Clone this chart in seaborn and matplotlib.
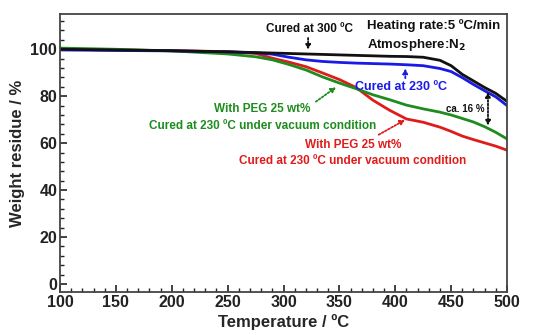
import seaborn as sns
import pandas as pd
import matplotlib.pyplot as plt
from matplotlib.ticker import MultipleLocator

# TGA curves
temps = [100, 150, 200, 250, 275, 290, 305, 320, 335, 350, 365, 380, 395,
         410, 425, 440, 450, 460, 470, 480, 490, 500]
cured_300 = [100.0, 99.7, 99.4, 98.9, 98.6, 98.4, 98.2, 98.0, 97.8, 97.6, 97.4,
             97.2, 97.0, 96.9, 96.6, 95.3, 93.0, 89.3, 86.5, 83.7, 81.2, 77.8]
cured_230 = [99.7, 99.5, 99.3, 98.9, 98.5, 97.9, 96.6, 95.5, 94.8, 94.4, 94.1,
             93.9, 93.7, 93.4, 93.0, 91.8, 90.5, 87.9, 85.0, 82.3, 79.7, 76.0]
peg_green = [100.5, 100.0, 99.3, 98.0, 96.8, 95.5, 93.5, 91.2, 88.2, 85.6, 83.2,
             80.6, 78.5, 76.2, 74.6, 73.2, 72.0, 70.5, 69.0, 67.0, 64.6, 61.8]
peg_red = [100.0, 99.7, 99.4, 99.0, 98.2, 96.2, 94.5, 92.6, 89.9, 87.1, 83.7,
           78.3, 74.0, 70.3, 68.9, 66.8, 65.0, 63.0, 61.5, 60.1, 58.7, 57.0]
names = ['300', '230', 'peg_g', 'peg_r']
colors = {'300': '#111111', '230': '#1a1ae6', 'peg_g': '#1e8c1e', 'peg_r': '#e01b1b'}

rows = []
for n, ys in zip(names, [cured_300, cured_230, peg_green, peg_red]):
    for t, y in zip(temps, ys):
        rows.append({'T': t, 'W': y, 's': n})
df = pd.DataFrame(rows)

sns.set_theme(style="white")
plt.rcParams['font.family'] = ['Liberation Sans', 'DejaVu Sans']
plt.rcParams['font.weight'] = 'bold'

fig = plt.figure(figsize=(5.33, 3.35), dpi=100)
ax = fig.add_axes([0.1126, 0.128, 0.8386, 0.83])

# red/green drawn first so black/blue sit on top
sns.lineplot(data=df, x='T', y='W', hue='s', hue_order=['peg_r', 'peg_g', '230', '300'],
             palette=colors, lw=2.0, legend=False, ax=ax)
for ln in ax.lines:
    ln.set_solid_joinstyle('round')

ax.set_xlim(100, 500)
ax.set_ylim(-3.5, 115)
ax.xaxis.set_major_locator(MultipleLocator(50))
ax.xaxis.set_minor_locator(MultipleLocator(10))
ax.yaxis.set_minor_locator(MultipleLocator(4))
ax.set_yticks([0, 20, 40, 60, 80, 100])
ax.tick_params(which='both', direction='in', top=False, right=False,
               bottom=True, left=True, labelsize=11.5, colors='#222222', pad=2)
ax.tick_params(which='major', length=5, width=1.2)
ax.tick_params(which='minor', length=3, width=1.0)
for lab in ax.get_xticklabels() + ax.get_yticklabels():
    lab.set_fontweight('bold')
for sp in ax.spines.values():
    sp.set_color('#444444')
    sp.set_linewidth(1.3)

ax.set_xlabel('Temperature / \u00baC', fontsize=12, fontweight='bold', labelpad=3)
ax.set_ylabel('Weight residue / %', fontsize=12, fontweight='bold', labelpad=4)

dot = dict(arrowstyle='-|>', linestyle=(0, (1, 1)), lw=1.3, mutation_scale=7)

ax.text(323, 108.5, 'Cured at 300 \u00baC', ha='center', va='center',
        fontsize=8.5, fontweight='bold', color='#111111')
ax.annotate('', xy=(322, 98.6), xytext=(322, 106),
            arrowprops=dict(dot, color='#111111'))

ax.text(375, 110, 'Heating rate:5 \u00baC/min', ha='left', va='center',
        fontsize=9.5, fontweight='bold', color='#111111')
ax.text(375, 102, 'Atmosphere:N$_\\mathbf{2}$', ha='left', va='center',
        fontsize=9.5, fontweight='bold', color='#111111')

ax.text(405, 84, 'Cured at 230 \u00baC', ha='center', va='center',
        fontsize=9, fontweight='bold', color=colors['230'])
ax.annotate('', xy=(409, 93.0), xytext=(409, 86.5),
            arrowprops=dict(dot, color=colors['230']))

ax.text(281, 74.5, 'With PEG 25 wt%', ha='center', va='center',
        fontsize=8.5, fontweight='bold', color=colors['peg_g'])
ax.text(281, 67.5, 'Cured at 230 \u00baC under vacuum condition', ha='center',
        va='center', fontsize=8.5, fontweight='bold', color=colors['peg_g'])
ax.annotate('', xy=(349, 84.5), xytext=(327, 77),
            arrowprops=dict(dot, color=colors['peg_g']))

ax.text(362, 59, 'With PEG 25 wt%', ha='center', va='center',
        fontsize=8.5, fontweight='bold', color=colors['peg_r'])
ax.text(362, 52.5, 'Cured at 230 \u00baC under vacuum condition', ha='center',
        va='center', fontsize=8.5, fontweight='bold', color=colors['peg_r'])
ax.annotate('', xy=(411, 70.5), xytext=(383, 63),
            arrowprops=dict(dot, color=colors['peg_r']))

ax.text(480, 74.5, 'ca. 16 %', ha='right', va='center',
        fontsize=7, fontweight='bold', color='#111111')
ax.annotate('', xy=(483, 83), xytext=(483, 66.3),
            arrowprops=dict(arrowstyle='<|-|>', linestyle=(0, (1, 1)), lw=1.3,
                            mutation_scale=7, color='#111111'))

fig.savefig('out.png', dpi=100)
